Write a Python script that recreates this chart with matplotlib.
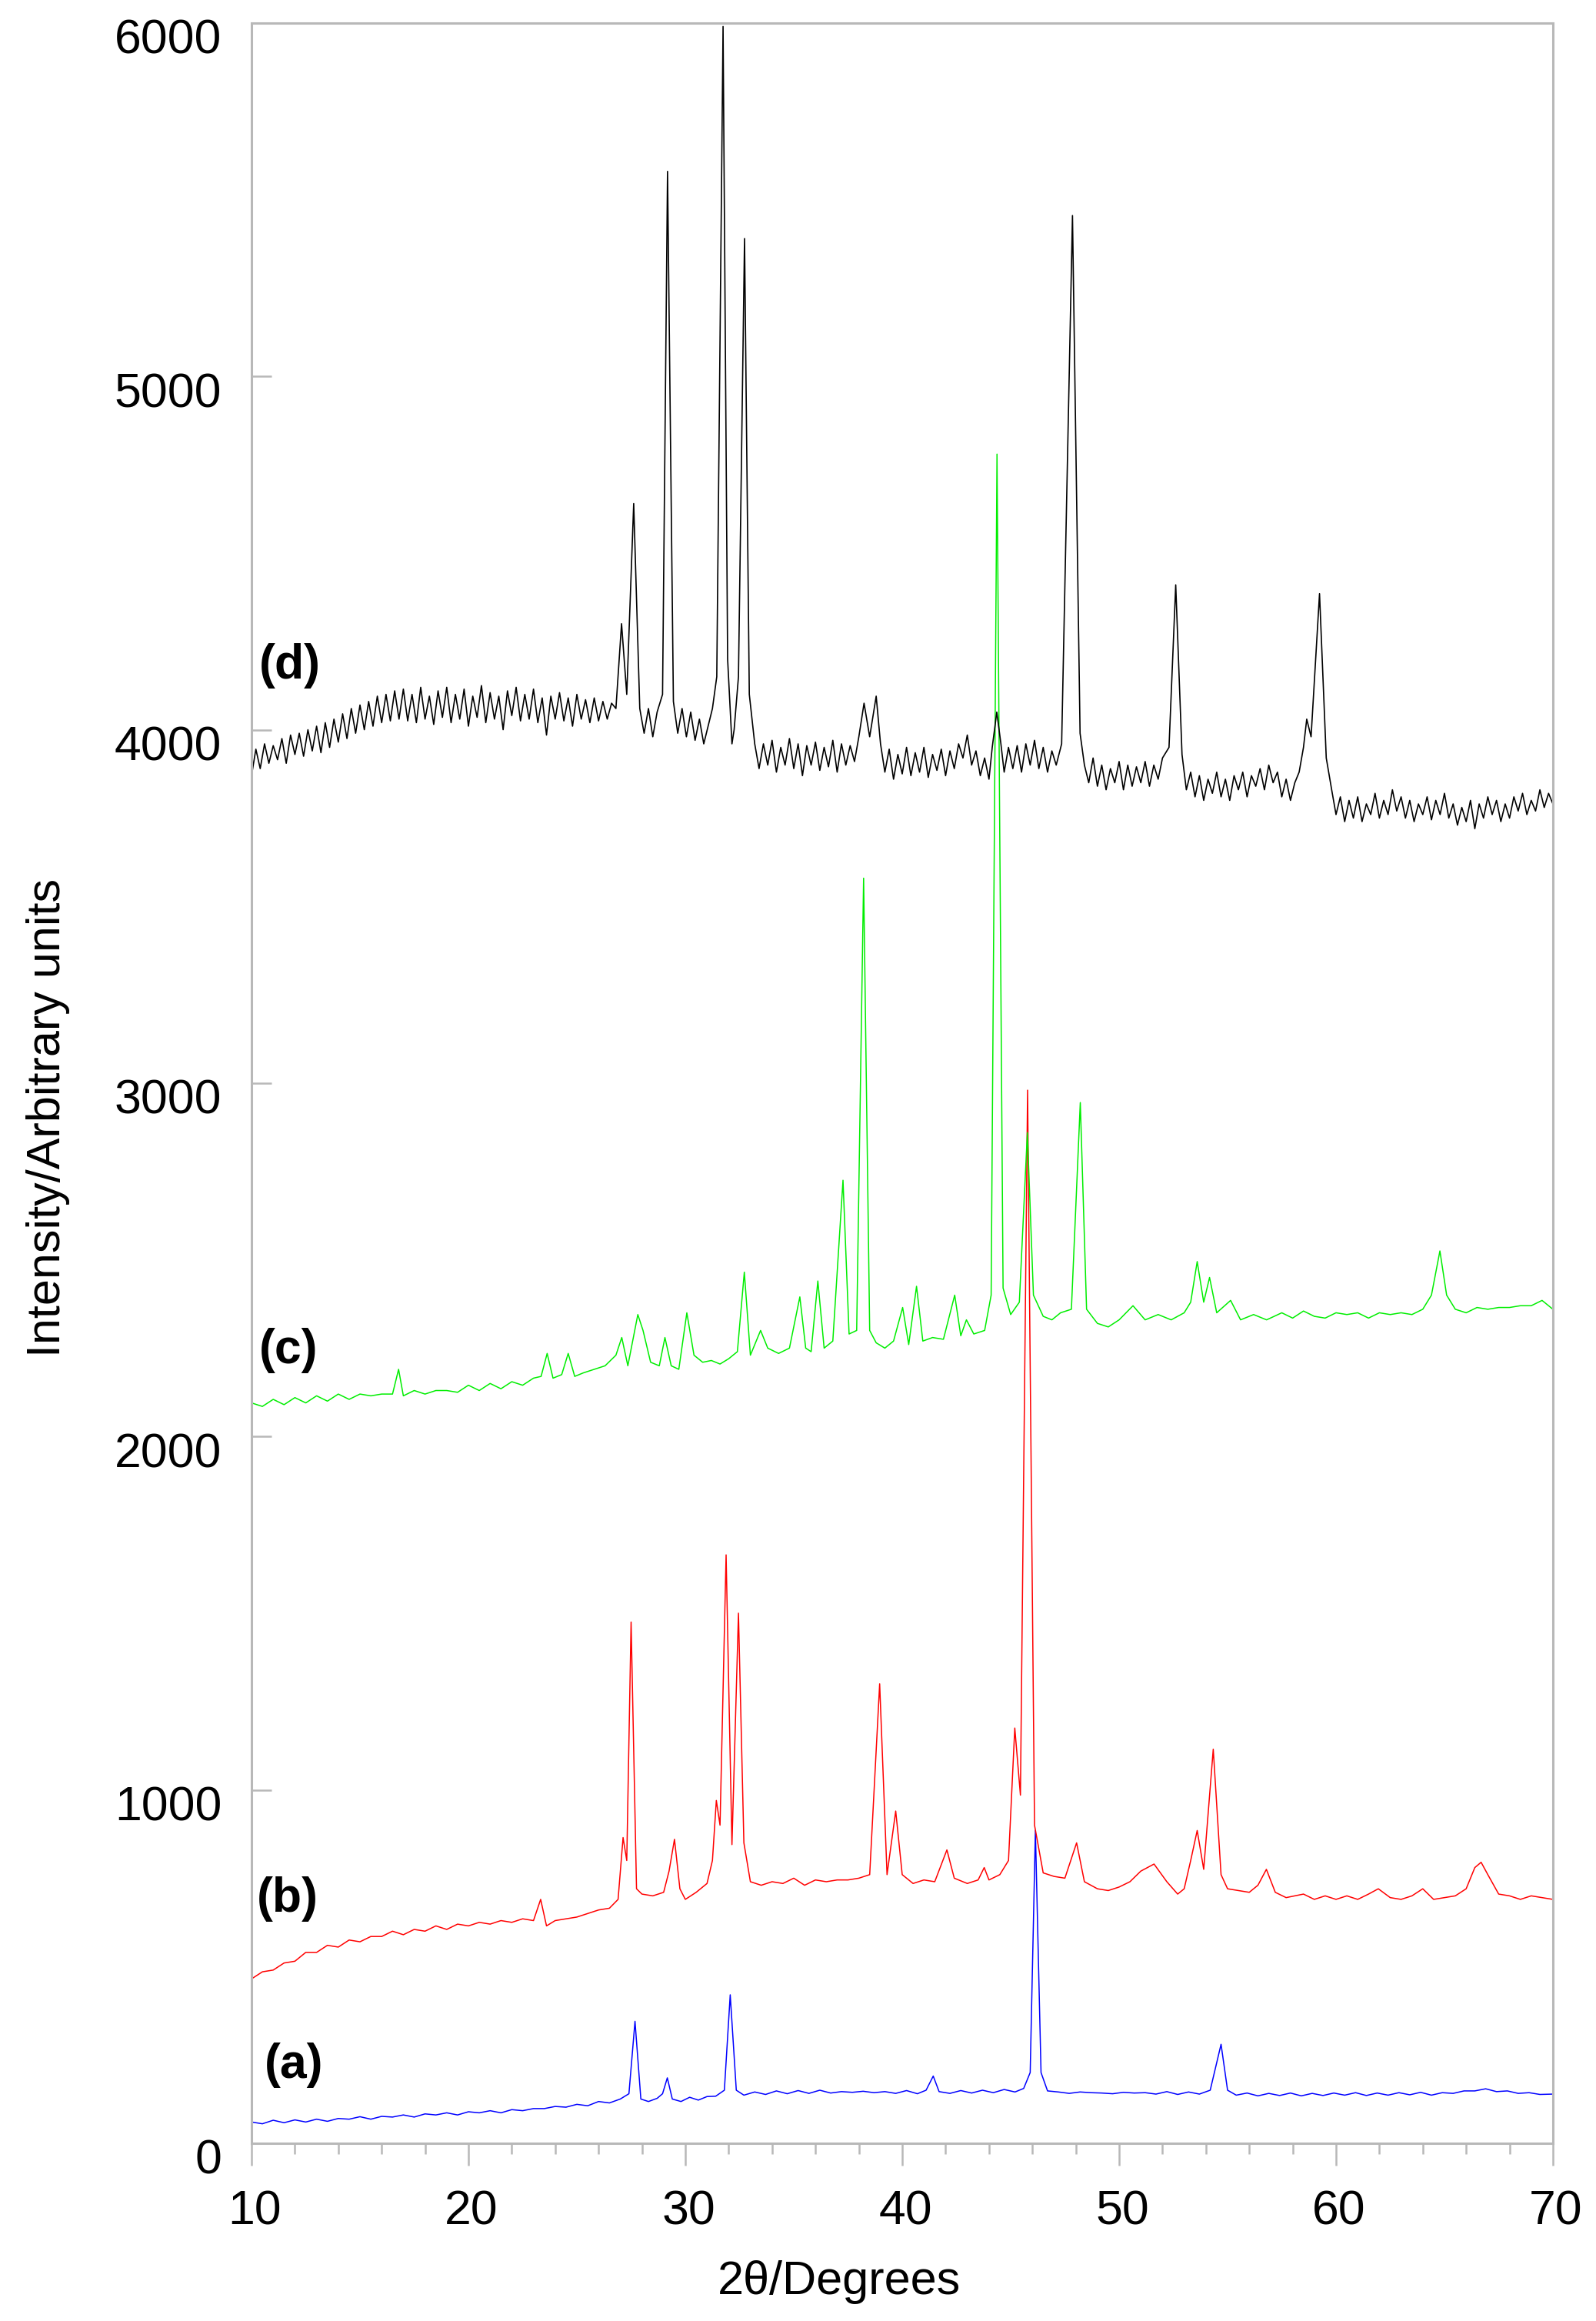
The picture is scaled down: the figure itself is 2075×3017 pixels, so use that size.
import matplotlib
matplotlib.use("Agg")
import matplotlib.pyplot as plt
from matplotlib.ticker import MultipleLocator
from matplotlib.transforms import ScaledTranslation

plt.rcParams['font.family'] = ['Liberation Sans', 'DejaVu Sans']

# ---------------- data ----------------
# (d) black trace
d_x = [10.0, 10.2, 10.4, 10.6, 10.8, 11.0, 11.2, 11.4, 11.6, 11.8, 12.0, 12.2, 12.4, 12.6, 12.8,
       13.0, 13.2, 13.4, 13.6, 13.8, 14.0, 14.2, 14.4, 14.6, 14.8, 15.0, 15.2, 15.4, 15.6, 15.8,
       16.0, 16.2, 16.4, 16.6, 16.8, 17.0, 17.2, 17.4, 17.6, 17.8, 18.0, 18.2, 18.4, 18.6, 18.8,
       19.0, 19.2, 19.4, 19.6, 19.8, 20.0, 20.2, 20.4, 20.6, 20.8, 21.0, 21.2, 21.4, 21.6, 21.8,
       22.0, 22.2, 22.4, 22.6, 22.8, 23.0, 23.2, 23.4, 23.6, 23.8, 24.0, 24.2, 24.4, 24.6, 24.8,
       25.0, 25.2, 25.4, 25.6, 25.8, 26.0, 26.2, 26.4, 26.6, 26.8,
       27.06, 27.3, 27.62, 27.9, 28.1, 28.3, 28.5, 28.7, 28.95, 29.18, 29.45, 29.65, 29.85, 30.05,
       30.25, 30.45, 30.65, 30.85, 31.05, 31.25, 31.45, 31.74, 31.95, 32.15, 32.25, 32.45, 32.73,
       32.95,
       33.2, 33.4, 33.6, 33.8, 34.0, 34.2, 34.4, 34.6, 34.8, 35.0, 35.2, 35.4, 35.6, 35.8, 36.0,
       36.2, 36.4, 36.6, 36.8, 37.0, 37.2, 37.4, 37.6, 37.8, 38.0, 38.24, 38.5, 38.8, 39.0,
       39.2, 39.4, 39.6, 39.8, 40.0, 40.2, 40.4, 40.6, 40.8, 41.0, 41.2, 41.4, 41.6, 41.8, 42.0,
       42.2, 42.4, 42.6, 42.8, 43.0, 43.2, 43.4, 43.6, 43.8, 44.0, 44.15, 44.36, 44.55, 44.7, 44.9,
       45.1, 45.3, 45.5, 45.7, 45.9, 46.1, 46.3, 46.5, 46.7, 46.9, 47.1, 47.35, 47.85, 48.2, 48.4,
       48.6, 48.8, 49.0, 49.2, 49.4, 49.6, 49.8, 50.0, 50.2, 50.4, 50.6, 50.8, 51.0, 51.2, 51.4,
       51.6, 51.8, 52.0, 52.3, 52.61, 52.9, 53.1, 53.3, 53.5, 53.7, 53.9, 54.1, 54.3, 54.5, 54.7,
       54.9, 55.1, 55.3, 55.5, 55.7, 55.9, 56.1, 56.3, 56.5, 56.7, 56.9, 57.1, 57.3, 57.5, 57.7,
       57.9, 58.1, 58.3, 58.5, 58.65, 58.85, 59.24, 59.55, 59.8, 60.0, 60.2, 60.4, 60.6, 60.8,
       61.0, 61.2, 61.4, 61.6, 61.8, 62.0, 62.2, 62.4, 62.6, 62.8, 63.0, 63.2, 63.4, 63.6, 63.8,
       64.0, 64.2, 64.4, 64.6, 64.8, 65.0, 65.2, 65.4, 65.6, 65.8, 66.0, 66.2, 66.4, 66.6, 66.8,
       67.0, 67.2, 67.4, 67.6, 67.8, 68.0, 68.2, 68.4, 68.6, 68.8, 69.0, 69.2, 69.4, 69.6, 69.8,
       70.0]
d_y = [3870, 3945, 3890, 3960, 3905, 3955, 3915, 3975, 3905, 3985, 3930, 3990, 3925, 4000, 3940,
       4010, 3935, 4020, 3950, 4030, 3965, 4045, 3975, 4060, 3990, 4070, 4000, 4080, 4010, 4095,
       4020, 4100, 4025, 4110, 4030, 4115, 4025, 4100, 4020, 4120, 4030, 4095, 4015, 4110, 4035,
       4120, 4020, 4100, 4030, 4115, 4010, 4095, 4035, 4125, 4020, 4105, 4030, 4095, 4000, 4110,
       4040, 4120, 4025, 4100, 4030, 4115, 4020, 4090, 3985, 4095, 4030, 4105, 4025, 4090, 4010,
       4100, 4030, 4085, 4020, 4090, 4025, 4080, 4030, 4075, 4060,
       4300, 4100, 4640, 4060, 3990, 4060, 3980, 4050, 4100, 5580, 4080, 3990, 4060, 3980,
       4050, 3970, 4030, 3960, 4010, 4060, 4150, 5990, 4200, 3960, 4000, 4150, 5390,
       4100,
       3960, 3890, 3960, 3900, 3970, 3880, 3950, 3900, 3975, 3890, 3960, 3870, 3955, 3900, 3965,
       3885, 3950, 3895, 3970, 3880, 3960, 3900, 3955, 3910, 3980, 4075, 3980, 4095, 3960,
       3880, 3945, 3860, 3930, 3875, 3950, 3870, 3935, 3880, 3950, 3865, 3930, 3885, 3945, 3870,
       3940, 3890, 3960, 3920, 3985, 3900, 3940, 3870, 3920, 3860, 3950, 4050, 3960, 3880, 3950,
       3890, 3955, 3880, 3960, 3900, 3970, 3890, 3950, 3880, 3940, 3900, 3960, 5455, 3990, 3900,
       3850, 3920, 3840, 3900, 3830, 3890, 3850, 3910, 3830, 3900, 3840, 3895, 3850, 3910, 3840,
       3900, 3860, 3920, 3950, 4410, 3930, 3830, 3880, 3810, 3870, 3800, 3860, 3820, 3880, 3810,
       3860, 3800, 3870, 3830, 3880, 3810, 3870, 3840, 3890, 3830, 3900, 3850, 3880, 3810, 3860,
       3800, 3850, 3880, 3950, 4030, 3980, 4385, 3920, 3830, 3760, 3810, 3740, 3800, 3750,
       3810, 3740, 3790, 3760, 3820, 3750, 3800, 3760, 3830, 3770, 3810, 3750, 3800, 3740, 3790,
       3760, 3810, 3745, 3800, 3760, 3820, 3750, 3790, 3730, 3780, 3740, 3800, 3720, 3790, 3750,
       3810, 3760, 3800, 3740, 3790, 3750, 3810, 3770, 3820, 3760, 3800, 3770, 3830, 3780, 3820,
       3790]

# (c) green trace
c_x = [10.0, 10.5, 11.0, 11.5, 12.0, 12.5, 13.0, 13.5, 14.0, 14.5, 15.0, 15.5, 16.0, 16.5, 16.78, 17.0,
       17.5, 18.0, 18.5, 19.0, 19.5, 20.0, 20.5, 21.0, 21.5, 22.0, 22.5, 23.0, 23.35, 23.63, 23.9, 24.3,
       24.6, 24.9, 25.3, 25.8, 26.3, 26.8, 27.07, 27.35, 27.81, 28.05, 28.4, 28.8, 29.06, 29.35, 29.7,
       30.07, 30.4, 30.8, 31.2, 31.6, 32.0, 32.4, 32.72, 33.0, 33.47, 33.8, 34.3, 34.8, 35.28, 35.55,
       35.8, 36.11, 36.4, 36.8, 37.27, 37.55, 37.9, 38.22, 38.5, 38.8, 39.2, 39.6, 40.02, 40.3, 40.66,
       40.95, 41.4, 41.9, 42.42, 42.7, 42.96, 43.3, 43.8, 44.1, 44.37, 44.65, 45.0, 45.4, 45.77, 46.05,
       46.5, 46.9, 47.3, 47.8, 48.21, 48.5, 49.0, 49.5, 50.0, 50.64, 51.2, 51.8, 52.4, 53.0, 53.3, 53.6,
       53.9, 54.17, 54.5, 55.14, 55.6, 56.2, 56.8, 57.5, 58.0, 58.5, 59.0, 59.5, 60.0, 60.5, 61.0, 61.5,
       62.0, 62.5, 63.0, 63.5, 64.0, 64.4, 64.79, 65.1, 65.5, 66.0, 66.5, 67.0, 67.5, 68.0, 68.5, 69.0,
       69.5, 70.0]
c_y = [2095, 2085, 2105, 2090, 2110, 2095, 2115, 2100, 2120, 2105, 2120, 2115, 2120, 2120, 2190, 2115,
       2130, 2120, 2130, 2130, 2125, 2145, 2130, 2150, 2135, 2155, 2145, 2165, 2170, 2235, 2165, 2175,
       2235, 2170, 2180, 2190, 2200, 2230, 2280, 2200, 2345, 2300, 2210, 2200, 2280, 2200, 2190,
       2350, 2230, 2210, 2215, 2205, 2220, 2240, 2465, 2230, 2300, 2250, 2235, 2250, 2395, 2250,
       2240, 2440, 2250, 2270, 2725, 2290, 2300, 3580, 2300, 2265, 2250, 2270, 2365, 2260, 2425,
       2270, 2280, 2275, 2400, 2285, 2330, 2290, 2300, 2400, 4780, 2420, 2345, 2380, 2860, 2400,
       2340, 2330, 2350, 2360, 2945, 2360, 2320, 2310, 2330, 2370, 2330, 2345, 2330, 2350, 2380, 2495,
       2380, 2450, 2350, 2385, 2330, 2345, 2330, 2350, 2335, 2355, 2340, 2335, 2350, 2345, 2350, 2335,
       2350, 2345, 2350, 2345, 2360, 2400, 2525, 2400, 2360, 2350, 2365, 2360, 2365, 2365, 2370, 2370,
       2385, 2360]

# (b) red trace
b_x = [10.0, 10.5, 11.0, 11.5, 12.0, 12.5, 13.0, 13.5, 14.0, 14.5, 15.0, 15.5, 16.0, 16.5, 17.0, 17.5,
       18.0, 18.5, 19.0, 19.5, 20.0, 20.5, 21.0, 21.5, 22.0, 22.5, 23.0, 23.33, 23.6, 24.0, 24.5, 25.0,
       25.5, 26.0, 26.5, 26.9, 27.13, 27.3, 27.5, 27.75, 28.0, 28.5, 29.0, 29.25, 29.5, 29.75, 30.0,
       30.5, 31.0, 31.25, 31.43, 31.6, 31.88, 32.15, 32.45, 32.7, 33.0, 33.5, 34.0, 34.5, 35.0, 35.5,
       36.0, 36.5, 37.0, 37.5, 38.0, 38.5, 38.96, 39.3, 39.7, 40.0, 40.5, 41.0, 41.5, 42.06, 42.4, 43.0,
       43.5, 43.78, 44.0, 44.5, 44.9, 45.19, 45.45, 45.78, 46.1, 46.5, 47.0, 47.5, 48.04, 48.4, 49.0,
       49.5, 50.0, 50.5, 51.0, 51.61, 52.2, 52.7, 53.0, 53.3, 53.6, 53.9, 54.34, 54.7, 55.0, 55.5, 56.0,
       56.4, 56.79, 57.2, 57.7, 58.5, 59.0, 59.5, 60.0, 60.5, 61.0, 61.5, 61.95, 62.5, 63.0, 63.5, 64.0,
       64.5, 65.0, 65.5, 66.0, 66.4, 66.69, 67.0, 67.5, 68.0, 68.5, 69.0, 69.5, 70.0]
b_y = [465, 485, 490, 510, 515, 540, 540, 560, 555, 575, 570, 585, 585, 600, 590, 605,
       600, 615, 605, 620, 615, 625, 620, 630, 625, 635, 630, 690, 615, 630, 635, 640,
       650, 660, 665, 690, 865, 800, 1475, 720, 705, 700, 710, 770, 860, 720, 690,
       710, 735, 800, 970, 900, 1665, 845, 1500, 850, 740, 730, 740, 735, 750, 730,
       745, 740, 745, 745, 750, 760, 1300, 760, 940, 760, 735, 745, 740, 830, 750, 735,
       745, 780, 745, 760, 800, 1175, 985, 2980, 900, 765, 755, 750, 850, 740, 720,
       715, 725, 740, 770, 790, 740, 705, 720, 800, 885, 775, 1115, 760, 720, 715, 710,
       730, 775, 710, 695, 705, 690, 700, 690, 700, 690, 705, 720, 695, 690, 700, 720,
       690, 695, 700, 720, 780, 795, 760, 705, 700, 690, 700, 695, 690]

# (a) blue trace
a_x = [10.0, 10.5, 11.0, 11.5, 12.0, 12.5, 13.0, 13.5, 14.0, 14.5, 15.0, 15.5, 16.0, 16.5, 17.0, 17.5,
       18.0, 18.5, 19.0, 19.5, 20.0, 20.5, 21.0, 21.5, 22.0, 22.5, 23.0, 23.5, 24.0, 24.5, 25.0, 25.5,
       26.0, 26.5, 27.0, 27.4, 27.68, 27.95, 28.3, 28.7, 28.95, 29.17, 29.4, 29.8, 30.2, 30.6, 31.0,
       31.4, 31.8, 32.07, 32.35, 32.7, 33.2, 33.7, 34.2, 34.7, 35.2, 35.7, 36.2, 36.7, 37.2, 37.7, 38.2,
       38.7, 39.2, 39.7, 40.2, 40.7, 41.1, 41.43, 41.7, 42.2, 42.7, 43.2, 43.7, 44.2, 44.7, 45.2, 45.6,
       45.9, 46.14, 46.4, 46.7, 47.2, 47.7, 48.2, 48.7, 49.2, 49.7, 50.2, 50.7, 51.2, 51.7, 52.2, 52.7,
       53.2, 53.7, 54.2, 54.7, 55.0, 55.4, 55.9, 56.4, 56.9, 57.4, 57.9, 58.4, 58.9, 59.4, 59.9, 60.4,
       60.9, 61.4, 61.9, 62.4, 62.9, 63.4, 63.9, 64.4, 64.9, 65.4, 65.9, 66.4, 66.9, 67.4, 67.9, 68.4,
       68.9, 69.4, 70.0]
a_y = [60, 55, 65, 58, 66, 60, 68, 62, 70, 68, 75, 68, 76, 74, 80, 74,
       83, 80, 86, 80, 89, 86, 92, 86, 95, 92, 98, 98, 104, 102, 110, 106,
       118, 114, 125, 140, 345, 125, 118, 127, 140, 185, 125, 118, 130, 122, 132,
       133, 150, 420, 150, 136, 145, 138, 148, 140, 149, 141, 150, 142, 146, 144, 147,
       143, 146, 141, 149, 140, 150, 190, 146, 141, 149, 142, 150, 143, 152, 145, 155,
       200, 885, 200, 148, 145, 141, 145, 143, 142, 140, 144, 142, 143, 139, 146, 138,
       145, 139, 150, 280, 150, 136, 142, 134, 141, 135, 142, 134, 141, 135, 142, 136,
       143, 135, 142, 136, 143, 137, 144, 136, 143, 141, 148, 148, 154, 146, 148, 141,
       143, 138, 139]

series_labels = ['(a)', '(b)', '(c)', '(d)']
label_x = [10.6, 10.25, 10.35, 10.35]
label_y = [220, 692, 2243, 4180]
x_ticks = [10, 20, 30, 40, 50, 60, 70]
y_ticks = [0, 1000, 2000, 3000, 4000, 5000, 6000]

# ---------------- figure ----------------
fig = plt.figure(figsize=(20.75, 30.17), dpi=100)
ax = fig.add_axes([0.1576, 0.0766, 0.8154, 0.9135])

ax.plot(a_x, a_y, color='#0000ff', lw=1.1)
ax.plot(b_x, b_y, color='#ff0000', lw=1.1)
ax.plot(c_x, c_y, color='#00ee00', lw=1.1)
ax.plot(d_x, d_y, color='#000000', lw=1.2)

ax.set_xlim(10, 70)
ax.set_ylim(0, 6000)
ax.set_xticks(x_ticks)
ax.set_yticks(y_ticks)
ax.xaxis.set_minor_locator(MultipleLocator(2))

spine_c = '#b8b8b8'
for s in ax.spines.values():
    s.set_color(spine_c)
    s.set_linewidth(2.2)

ax.tick_params(axis='y', direction='in', length=19, width=1.8, color=spine_c,
               labelsize=45, pad=28, labelcolor='black')
ax.tick_params(axis='x', which='major', direction='out', length=21, width=1.8, color=spine_c,
               labelsize=45, pad=22, labelcolor='black')
ax.tick_params(axis='x', which='minor', direction='out', length=10, width=1.8, color=spine_c)

# y tick labels sit slightly below their ticks in the original
for lab in ax.get_yticklabels():
    lab.set_transform(lab.get_transform() + ScaledTranslation(0, -0.17, fig.dpi_scale_trans))
for lab in ax.get_xticklabels():
    lab.set_transform(lab.get_transform() + ScaledTranslation(0.04, 0, fig.dpi_scale_trans))

for lab, xv, yv in zip(series_labels, label_x, label_y):
    ax.text(xv, yv, lab, fontsize=45, fontweight='bold', ha='left', va='center', color='black')

fig.text(0.526, 0.0169, '2θ/Degrees', fontsize=44, ha='center', va='center')
fig.text(0.030, 0.5184, 'Intensity/Arbitrary units', fontsize=44, rotation=90,
         ha='center', va='center')

fig.savefig('out.png', dpi=100)
